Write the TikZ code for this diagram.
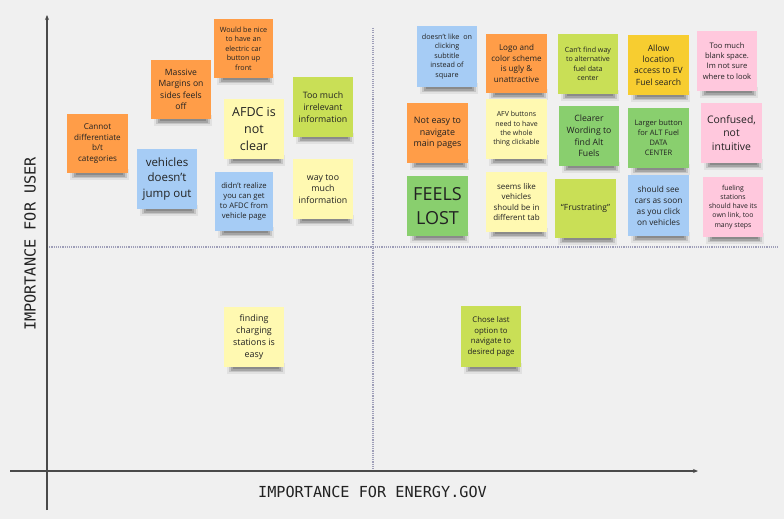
\documentclass[tikz,border=0pt]{standalone}
\usepackage{fontspec}
\setmainfont{Open Sans}
\newfontfamily\axisfont{DejaVu Sans Mono}
\usetikzlibrary{arrows.meta}
\definecolor{bgN}{HTML}{F0F0F0}
\definecolor{orangeN}{HTML}{FF9D48}
\definecolor{limeN}{HTML}{C9DF56}
\definecolor{ylightN}{HTML}{FFF9B1}
\definecolor{blueN}{HTML}{A6CCF5}
\definecolor{greenN}{HTML}{89CF6E}
\definecolor{pinkN}{HTML}{FFC8DD}
\definecolor{yellowN}{HTML}{F7CD30}
\definecolor{axisC}{HTML}{4A4A4A}
\definecolor{gridC}{HTML}{9E9EB8}
\definecolor{textC}{HTML}{222222}
\tikzset{
  note/.style={inner sep=0pt, align=center, text=textC},
  axisline/.style={draw=axisC, line width=1.1pt},
  gridline/.style={draw=gridC, line width=1.1pt, dash pattern=on 1.1pt off 1.1pt},
  axislabel/.style={text=textC, font={\axisfont\fontsize{15.2}{18}\selectfont}, inner sep=0pt},
}
% #1 name, #2 x1, #3 y1, #4 x2, #5 y2, #6 colour, #7 font size, #8 text
\newcommand{\sticky}[8]{%
  \fill[black, opacity=0.06] (#2+3,#5-4) rectangle (#4+1,#5+7);
  \fill[black, opacity=0.12] (#2+5,#5-3) rectangle (#4-1,#5+5);
  \fill[black, opacity=0.16] (#2+7,#5-2) rectangle (#4-3,#5+3.5);
  \fill[black, opacity=0.16] (#2+9,#5-2) rectangle (#4-5,#5+2);
  \node[note, fill=#6, minimum width={(#4-#2)*1pt}, minimum height={(#5-#3)*1pt},
        font={\fontsize{#7}{\fpeval{1.33*#7}}\selectfont}]
        (#1) at ({(#2+#4)/2},{(#3+#5)/2}) {#8};%
}
\begin{document}
\begin{tikzpicture}[x=1pt,y=-1pt]
\fill[bgN] (0,0) rectangle (784,519);
\useasboundingbox (0,0) rectangle (784,519);
% grid (quadrant) lines
\coordinate (vt) at (373,28);
\coordinate (vb) at (373,471);
\coordinate (hl) at (47,247);
\coordinate (hr) at (778,247);
\draw[gridline] (vt) -- (vb);
\draw[gridline] (hl) -- (hr);
% axes
\coordinate (yb) at (47,510);
\coordinate (yt) at (47,15);
\coordinate (xl) at (10,471);
\coordinate (xr) at (698,471);
\draw[axisline, -{Stealth[length=5pt,width=4pt]}] (yb) -- (yt);
\draw[axisline, -{Stealth[length=5pt,width=4pt]}] (xl) -- (xr);
\node[axislabel] (xlab) at (372.5,492) {IMPORTANCE FOR ENERGY.GOV};
\node[axislabel, rotate=90] (ylab) at (30,244) {IMPORTANCE FOR USER};
% left cluster
\sticky{n1}{214}{19}{273}{78}{orangeN}{7.2}{Would be nice\\to have an\\electric car\\button up\\front}
\sticky{n2}{151}{60}{211}{119}{orangeN}{8.6}{Massive\\Margins on\\sides feels\\off}
\sticky{n3}{293}{77}{353}{137}{limeN}{8.8}{Too much\\irrelevant\\information}
\sticky{n4}{224}{99}{284}{159}{ylightN}{12.5}{AFDC is\\not\\clear}
\sticky{n5}{67}{114}{128}{173}{orangeN}{8.1}{Cannot\\differentiate\\b/t\\categories}
\sticky{n6}{137}{149}{197}{209}{blueN}{11.5}{vehicles\\doesn't\\jump out}
\sticky{n7}{215}{172}{273}{231}{blueN}{7.7}{didn't realize\\you can get\\to AFDC from\\vehicle page}
\sticky{n8}{293}{159}{353}{219}{ylightN}{8.8}{way too\\much\\information}
% right cluster
\sticky{n9}{417}{26}{477}{87}{blueN}{7.2}{doesn't like~ on\\clicking\\subtitle\\instead of\\square}
\sticky{n10}{486}{34}{547}{93}{orangeN}{8.1}{Logo and\\color scheme\\is ugly \&\\unattractive}
\sticky{n11}{558}{34}{618}{94}{limeN}{7.1}{Can't find way\\to alternative\\fuel data\\center}
\sticky{n12}{628}{35}{689}{95}{yellowN}{8.6}{Allow\\location\\access to EV\\Fuel search}
\sticky{n13}{697}{31}{757}{91}{pinkN}{7.6}{Too much\\blank space.\\Im not sure\\where to look}
\sticky{n14}{407}{103}{468}{163}{orangeN}{8.9}{Not easy to\\navigate\\main pages}
\sticky{n15}{486}{99}{547}{159}{ylightN}{7.0}{AFV buttons\\need to have\\the whole\\thing clickable}
\sticky{n16}{559}{106}{619}{166}{greenN}{8.7}{Clearer\\Wording to\\find Alt\\Fuels}
\sticky{n17}{628}{108}{689}{168}{greenN}{7.5}{Larger button\\for ALT Fuel\\DATA\\CENTER}
\sticky{n18}{701}{103}{762}{163}{pinkN}{10.4}{Confused,\\not\\intuitive}
\sticky{n19}{407}{176}{468}{236}{greenN}{18}{FEELS\\LOST}
\sticky{n20}{486}{172}{547}{232}{ylightN}{8.0}{seems like\\vehicles\\should be in\\different tab}
\sticky{n21}{555}{179}{616}{238}{limeN}{8.5}{“Frustrating”}
\sticky{n22}{628}{175}{689}{236}{blueN}{8.3}{should see\\cars as soon\\as you click\\on vehicles}
\sticky{n23}{703}{177}{763}{237}{pinkN}{6.9}{fueling\\stations\\should have its\\own link, too\\many steps}
% bottom
\sticky{n24}{224}{307}{284}{367}{ylightN}{8.9}{finding\\charging\\stations is\\easy}
\sticky{n25}{461}{306}{521}{367}{limeN}{7.8}{Chose last\\option to\\navigate to\\desired page}
\end{tikzpicture}
\end{document}
